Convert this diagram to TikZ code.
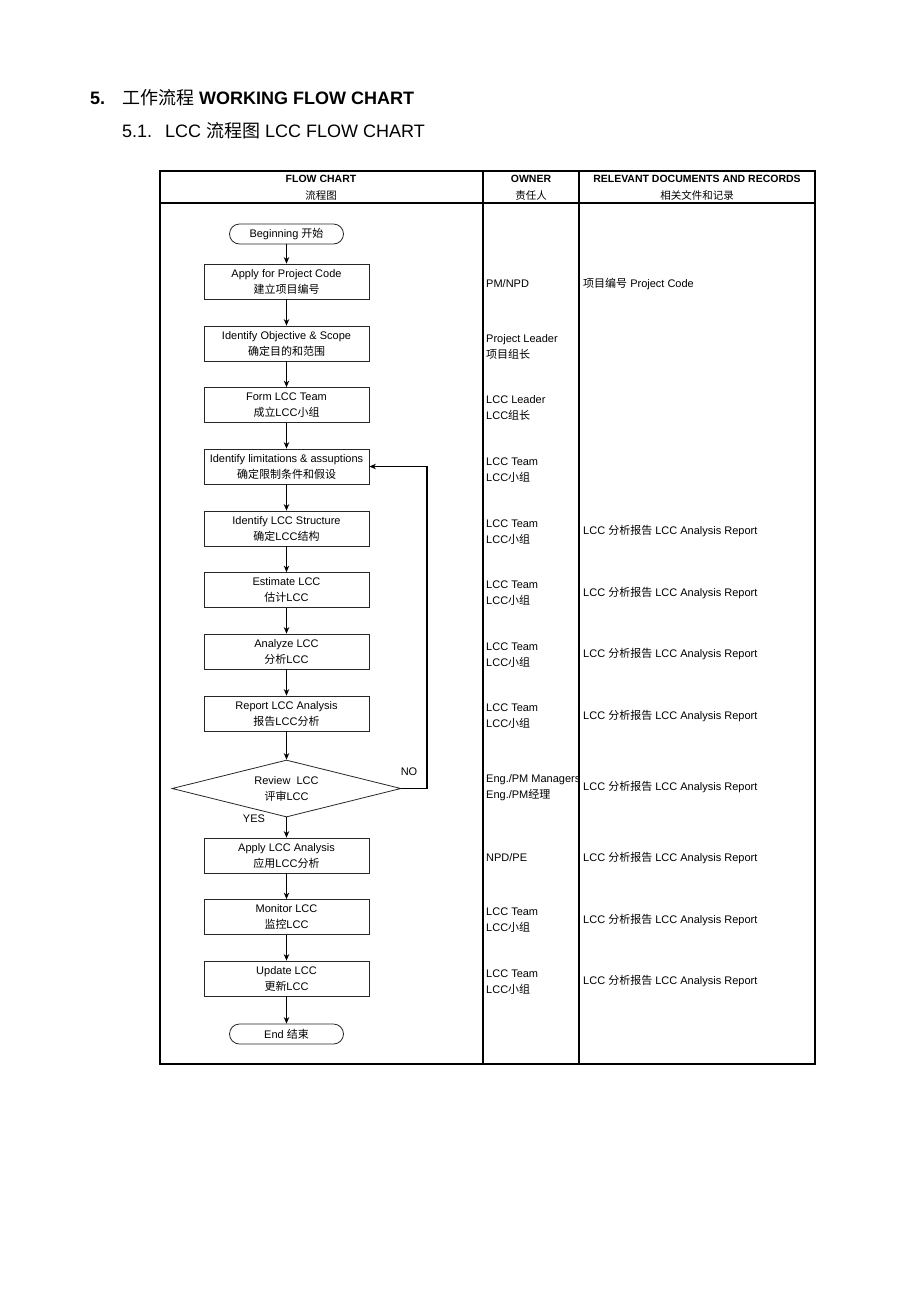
\documentclass[tikz,border=0pt]{standalone}
\usepackage{fontspec}
\setmainfont{Liberation Sans}
\newfontfamily\cjk{Noto Sans CJK SC}
\usetikzlibrary{shapes.geometric,arrows.meta}
\newcommand{\zh}[1]{{\cjk #1}}
\begin{document}
\begin{tikzpicture}[x=1pt,y=-1pt,
  txt/.style={font=\fontsize{11}{16}\selectfont, inner sep=0pt},
  box/.style={txt, draw=black!85, line width=0.8pt, minimum width=165pt, minimum height=35pt, align=center},
  term/.style={txt, draw=black!85, line width=0.8pt, rounded corners=10pt, minimum width=114pt, minimum height=20pt},
  dia/.style={txt, draw=black!85, line width=0.8pt, diamond, aspect=4, minimum width=229pt, minimum height=57pt, align=center},
  arr/.style={line width=1.1pt, -{Stealth[length=6.5pt,width=5.5pt]}},
  own/.style={txt, anchor=west, align=left},
  doc/.style={txt, anchor=west},
  head/.style={font=\fontsize{10.5}{17}\selectfont\bfseries, inner sep=0pt, align=center},
  tline/.style={line width=2pt}]
\useasboundingbox (0,0) rectangle (920,1302);
% titles
\node[anchor=base west, inner sep=0pt, font=\fontsize{18}{20}\selectfont\bfseries] (t1n) at (90,104) {5.};
\node[anchor=base west, inner sep=0pt, font=\fontsize{18}{20}\selectfont\bfseries] (t1) at (122,104) {\zh{\mdseries 工作流程} WORKING FLOW CHART};
\node[anchor=base west, inner sep=0pt, font=\fontsize{18}{20}\selectfont] (t2n) at (122,137) {5.1.};
\node[anchor=base west, inner sep=0pt, font=\fontsize{18}{20}\selectfont] (t2) at (165,137) {LCC \zh{流程图} LCC FLOW CHART};
% table
\draw[tline] (160,171) rectangle (815,1064);
\draw[tline] (483,171) -- (483,1064);
\draw[tline] (579,171) -- (579,1064);
\draw[line width=1.5pt] (160,203) -- (815,203);
\node[head] (h1) at (321,188) {FLOW CHART\\\zh{\mdseries 流程图}};
\node[head] (h2) at (531,188) {OWNER\\\zh{\mdseries 责任人}};
\node[head] (h3) at (697,188) {RELEVANT DOCUMENTS AND RECORDS\\\zh{\mdseries 相关文件和记录}};
% flow
\node[term] (b) at (286.5,234) {Beginning \zh{开始}};
\node[box] (n1) at (286.5,281.5) {Apply for Project Code\\\zh{建立项目编号}};
\node[box] (n2) at (286.5,343.5) {Identify Objective \& Scope\\\zh{确定目的和范围}};
\node[box] (n3) at (286.5,405) {Form LCC Team\\\zh{成立}LCC\zh{小组}};
\node[box] (n4) at (286.5,466.5) {Identify limitations \& assuptions\\\zh{确定限制条件和假设}};
\node[box] (n5) at (286.5,528.5) {Identify LCC Structure\\\zh{确定}LCC\zh{结构}};
\node[box] (n6) at (286.5,590) {Estimate LCC\\\zh{估计}LCC};
\node[box] (n7) at (286.5,651.5) {Analyze LCC\\\zh{分析}LCC};
\node[box] (n8) at (286.5,713.5) {Report LCC Analysis\\\zh{报告}LCC\zh{分析}};
\node[dia] (d) at (286.5,788.5) {Review\ \ LCC\\\zh{评审}LCC};
\node[box] (n9) at (286.5,855.5) {Apply LCC Analysis\\\zh{应用}LCC\zh{分析}};
\node[box] (n10) at (286.5,917) {Monitor LCC\\\zh{监控}LCC};
\node[box] (n11) at (286.5,978.5) {Update LCC\\\zh{更新}LCC};
\node[term] (e) at (286.5,1034) {End \zh{结束}};
\foreach \a/\b in {b/n1,n1/n2,n2/n3,n3/n4,n4/n5,n5/n6,n6/n7,n7/n8,n8/d,d/n9,n9/n10,n10/n11,n11/e}
  \draw[arr] (\a) -- (\b);
\coordinate (fb) at (427,466.5);
\draw[arr] (d.east) -| (fb) -- (n4.east);
\node[txt] (no) at (409,772) {NO};
\node[txt] (yes) at (254,819) {YES};
% owners
\node[own] (o1) at (486,284) {PM/NPD};
\node[own] (o2) at (486,346.5) {Project Leader\\\zh{项目组长}};
\node[own] (o3) at (486,408) {LCC Leader\\LCC\zh{组长}};
\node[own] (o4) at (486,470) {LCC Team\\LCC\zh{小组}};
\node[own] (o5) at (486,532) {LCC Team\\LCC\zh{小组}};
\node[own] (o6) at (486,593.5) {LCC Team\\LCC\zh{小组}};
\node[own] (o7) at (486,655) {LCC Team\\LCC\zh{小组}};
\node[own] (o8) at (486,716.5) {LCC Team\\LCC\zh{小组}};
\node[own] (o9) at (486,787.5) {Eng./PM Managers\\Eng./PM\zh{经理}};
\node[own] (o10) at (486,858) {NPD/PE};
\node[own] (o11) at (486,920) {LCC Team\\LCC\zh{小组}};
\node[own] (o12) at (486,982) {LCC Team\\LCC\zh{小组}};
% docs
\node[doc] (r1) at (583,284) {\zh{项目编号} Project Code};
\foreach \i/\y in {2/531,3/593,4/654.5,5/716,6/787,7/858,8/920,9/981.5}
  \node[doc] (r\i) at (583,\y) {LCC \zh{分析报告} LCC Analysis Report};
\end{tikzpicture}
\end{document}
